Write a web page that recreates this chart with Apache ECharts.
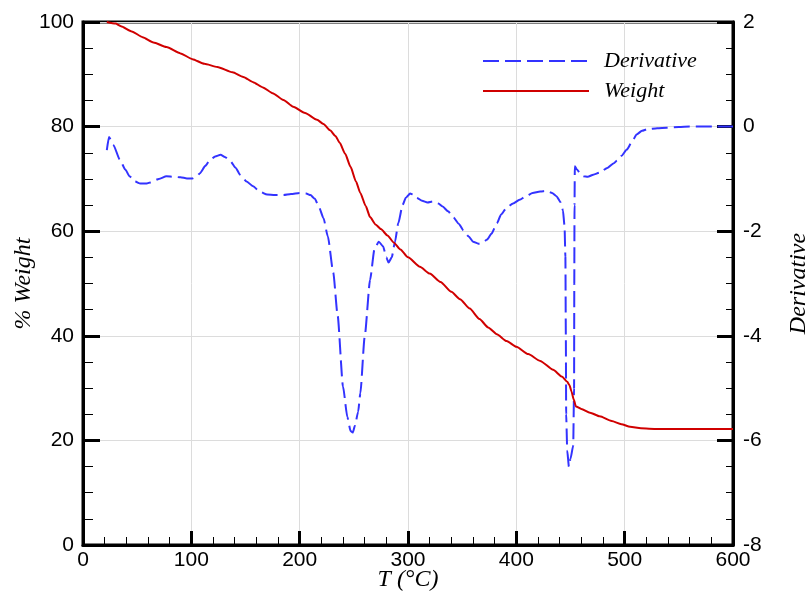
<!DOCTYPE html>
<html><head><meta charset="utf-8">
<script src="https://cdn.jsdelivr.net/npm/echarts@6/dist/echarts.min.js"></script>
<style>html,body{margin:0;padding:0;background:#fff}#c{width:807px;height:595px}</style>
</head><body><div id="c"></div>
<script>
const weightT = [22,30,35,45,55,65,77,90,101,112,124,138,148,157,166,175,185,194,205,216,222,228,233,237,242,247,252,256,261,265,270,275,281,287,293,300,311,320,330,340,348,357,366,374,382,391,400,411,422,434,442,447,449,451,453,455,460,468,477,488,497,505,515,530,560,600];
const weightV = [100,99.7,99.2,98.2,97.1,96.1,95.2,94.0,92.9,92.0,91.4,90.4,89.5,88.5,87.5,86.4,85.1,83.8,82.6,81.3,80.5,79.3,78.2,76.9,74.8,72.3,69.5,67.3,64.8,62.7,61.3,60.4,59.2,57.8,56.5,55.0,53.2,51.9,50.3,48.4,47.0,45.2,43.2,41.6,40.3,39.0,37.9,36.5,35.2,33.5,32.2,31.2,30.6,29.3,27.8,26.5,26.0,25.3,24.6,23.7,23.1,22.6,22.3,22.2,22.2,22.2];
const derivT = [22,24,28,34,39,43,48,53,58,62,70,77,84,90,96,101,105,108,113,117,122,127,131,136,141,145,151,157,163,170,177,185,192,200,206,210,214,218,222,226,231,235,240,244,247,249,251,254,256,260,265,269,273,277,280,282,285,288,291,295,298,302,305,308,313,318,323,328,332,337,342,347,351,356,360,365,369,373,377,382,386,391,397,403,409,415,422,428,433,437,441,443,444.5,445.3,445.7,446,447,448.5,450,452.5,453.3,453.5,453.7,454,456,459,462,466,471,477,484,490,493,497,502,507,511,516,521,530,539,550,560,570,585,600];
const derivV = [-0.45,-0.2,-0.35,-0.63,-0.82,-0.95,-1.05,-1.09,-1.09,-1.07,-1.00,-0.95,-0.96,-0.97,-0.99,-0.99,-0.95,-0.89,-0.75,-0.64,-0.57,-0.54,-0.58,-0.66,-0.79,-0.92,-1.05,-1.14,-1.24,-1.30,-1.31,-1.31,-1.29,-1.27,-1.28,-1.31,-1.38,-1.55,-1.75,-2.10,-2.79,-3.6,-4.97,-5.55,-5.82,-5.85,-5.72,-5.45,-5.1,-4.02,-2.93,-2.35,-2.2,-2.29,-2.5,-2.6,-2.5,-2.2,-1.85,-1.5,-1.36,-1.28,-1.3,-1.36,-1.42,-1.45,-1.43,-1.47,-1.53,-1.62,-1.74,-1.86,-1.98,-2.10,-2.20,-2.24,-2.22,-2.16,-2.05,-1.85,-1.68,-1.55,-1.47,-1.40,-1.33,-1.27,-1.24,-1.23,-1.27,-1.33,-1.45,-1.6,-1.9,-2.5,-4,-5.5,-6.2,-6.5,-6.35,-6.1,-5,-3,-1.5,-0.76,-0.82,-0.9,-0.95,-0.96,-0.92,-0.88,-0.79,-0.70,-0.65,-0.56,-0.44,-0.28,-0.15,-0.08,-0.05,-0.03,-0.02,-0.01,0,0,0,0];

const weightData = weightT.map((t,i)=>[t,weightV[i]]);
const derivData = derivT.map((t,i)=>[t,derivV[i]]);

const labelFont = {fontFamily:'Liberation Sans', fontSize:21, color:'#000'};
const titleFont = {fontFamily:'Liberation Serif', fontStyle:'italic', fontSize:24, color:'#000'};

const chart = echarts.init(document.getElementById('c'), null, {renderer:'canvas'});
chart.setOption({
  animation:false,
  backgroundColor:'#fff',
  grid:{left:83, right:74, top:22, bottom:50, show:true, borderColor:'#000', borderWidth:3, containLabel:false, outerBoundsMode:'none'},
  legend:{
    orient:'vertical', left:477, top:45, itemWidth:106, itemHeight:14, itemGap:8,
    data:['Derivative','Weight'],
    itemStyle:{opacity:0},
    textStyle:{fontFamily:'Liberation Serif', fontStyle:'italic', fontSize:22, color:'#000', padding:[0,0,0,10]}
  },
  xAxis:{
    type:'value', min:0, max:600, interval:100,
    name:'T (°C)', nameLocation:'middle', nameGap:23, nameMoveOverlap:false, nameTextStyle:titleFont,
    axisLine:{lineStyle:{color:'#000', width:3}},
    axisTick:{inside:true, length:14, lineStyle:{color:'#000', width:3}},
    minorTick:{show:true, splitNumber:5, length:8, lineStyle:{color:'#000', width:1}},
    axisLabel:Object.assign({margin:5}, labelFont),
    splitLine:{show:true, lineStyle:{color:'#dcdcdc', width:1}}
  },
  yAxis:[{
    type:'value', min:0, max:100, interval:20, position:'left',
    name:'% Weight', nameLocation:'middle', nameGap:47, nameMoveOverlap:false, nameRotate:90, nameTextStyle:titleFont,
    axisLine:{lineStyle:{color:'#000', width:3}},
    axisTick:{inside:true, length:17, lineStyle:{color:'#000', width:3}},
    minorTick:{show:true, splitNumber:4, length:10, lineStyle:{color:'#000', width:1}},
    axisLabel:Object.assign({margin:9}, labelFont),
    splitLine:{show:true, lineStyle:{color:'#dcdcdc', width:1}}
  },{
    type:'value', min:-8, max:2, interval:2, position:'right',
    name:'Derivative', nameLocation:'middle', nameGap:54, nameMoveOverlap:false, nameRotate:90, nameTextStyle:titleFont,
    axisLine:{show:true, lineStyle:{color:'#000', width:3}},
    axisTick:{show:true, inside:true, length:16, lineStyle:{color:'#000', width:3}},
    minorTick:{show:true, splitNumber:4, length:7, lineStyle:{color:'#000', width:1}},
    axisLabel:Object.assign({margin:10}, labelFont),
    splitLine:{show:false}
  }],
  series:[{
    name:'Derivative', type:'line', yAxisIndex:1, data:derivData, smooth:0.2, smoothMonotone:'x',
    showSymbol:false, symbol:'none',
    lineStyle:{color:'#3333ff', width:2, type:[16,6]}, itemStyle:{color:'#3333ff'}, z:3
  },{
    name:'Weight', type:'line', yAxisIndex:0, data:weightData, smooth:0.2, smoothMonotone:'x',
    showSymbol:false, symbol:'none',
    lineStyle:{color:'#d00000', width:2}, itemStyle:{color:'#d00000'}, z:4
  }]
});
</script></body></html>
